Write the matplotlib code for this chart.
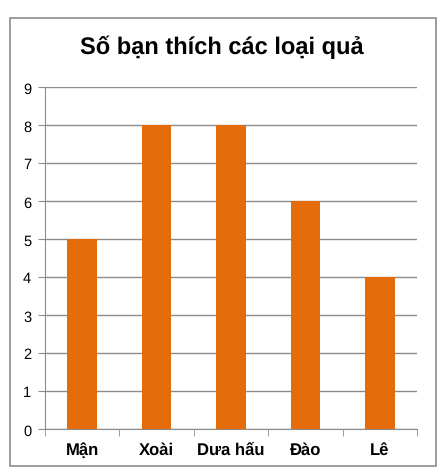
import numpy as np
import matplotlib.pyplot as plt
from matplotlib.patches import Rectangle

# Data
categories = ['Mận', 'Xoài', 'Dưa hấu', 'Đào', 'Lê']
values = [5, 8, 8, 6, 4]
yticks = list(range(0, 10))

plt.rcParams['font.family'] = ['Liberation Sans', 'DejaVu Sans']
plt.rcParams['text.hinting'] = 'no_hinting'

fig = plt.figure(figsize=(4.44, 4.77), dpi=100)
ax = fig.add_axes([45 / 444, 1 - 430 / 477, 372 / 444, 342 / 477])

# outer chart border
fig.patches.append(Rectangle((10 / 444, 10 / 477), 426 / 444, 448 / 477,
                             transform=fig.transFigure, fill=False,
                             edgecolor='#8c8c8c', linewidth=1.2))

x = np.arange(len(categories))
ax.bar(x, values, width=0.4, color='#E46C0A', zorder=3)

ax.set_xlim(-0.5, len(categories) - 0.5)
ax.set_ylim(0, 9)
ax.set_yticks(yticks)
ax.yaxis.grid(True, color='#8c8c8c', linewidth=1.0, zorder=0)
ax.tick_params(axis='y', length=5, color='#8c8c8c', labelsize=10.5, pad=5)

# category labels centred on a common baseline, ticks between categories
ax.set_xticks(x)
ax.set_xticklabels(categories, fontsize=12, fontweight='bold')
ax.tick_params(axis='x', length=0, pad=18)
for lab in ax.get_xticklabels():
    lab.set_verticalalignment('baseline')
ax.set_xticks(np.arange(-0.5, len(categories)), minor=True)
ax.tick_params(axis='x', which='minor', length=5, color='#8c8c8c')

for s in ['top', 'right']:
    ax.spines[s].set_visible(False)
for s in ['left', 'bottom']:
    ax.spines[s].set_color('#8c8c8c')

fig.text(0.5, 1 - 47 / 477, 'Số bạn thích các loại quả', ha='center', va='center',
         fontsize=17, fontweight='bold')

fig.savefig('out.png', dpi=100)
